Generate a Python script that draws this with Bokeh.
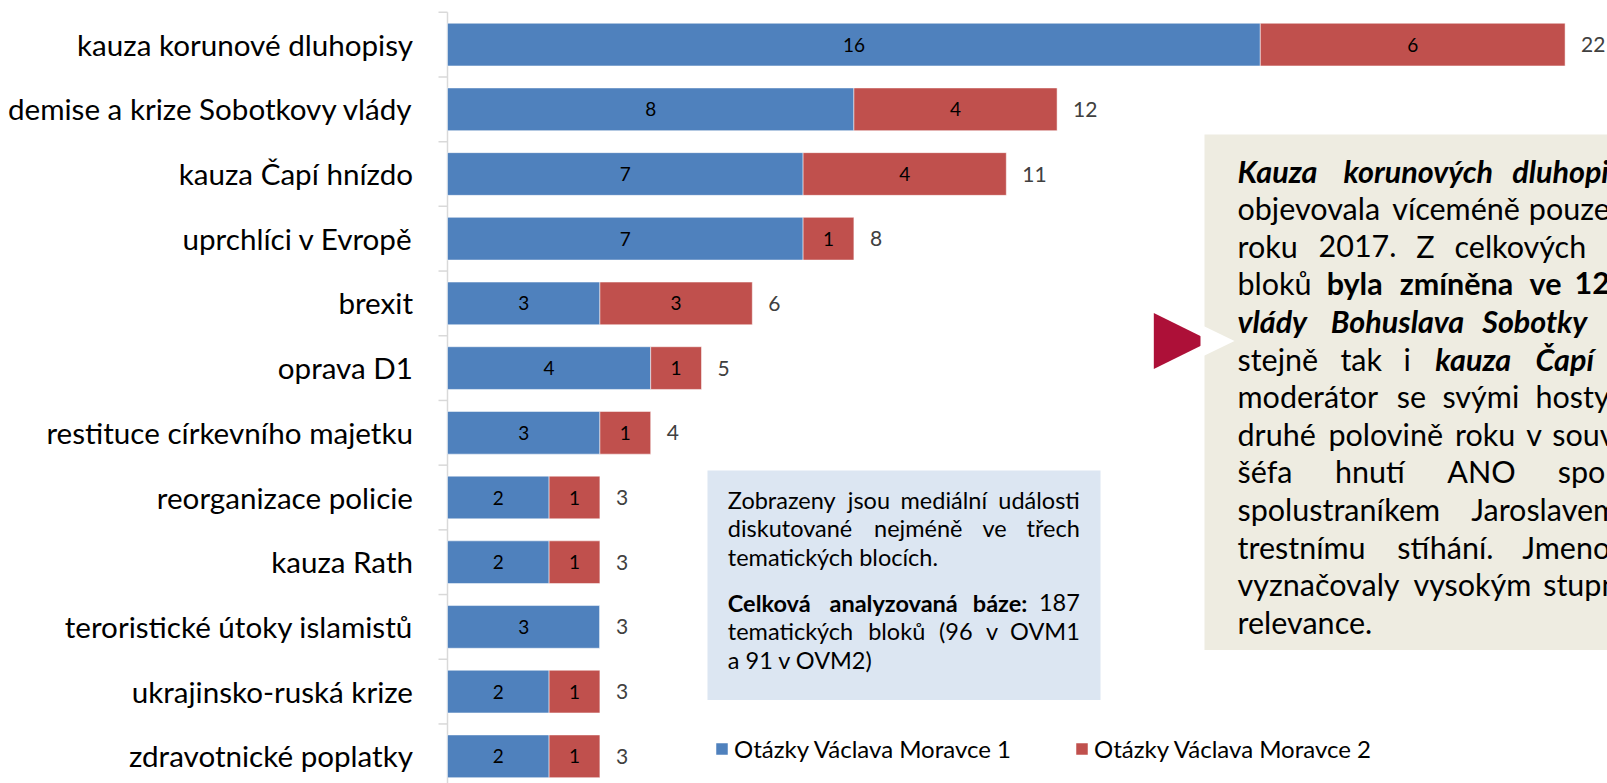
import unicodedata
from bokeh.plotting import figure
from bokeh.models import Range1d, ColumnDataSource, Legend, LegendItem
from bokeh.core.properties import value
from bokeh.embed import file_html
from bokeh.resources import INLINE

# ---------------- data ----------------
categories = [
    "kauza korunové dluhopisy",
    "demise a krize Sobotkovy vlády",
    "kauza Čapí hnízdo",
    "uprchlíci v Evropě",
    "brexit",
    "oprava D1",
    "restituce církevního majetku",
    "reorganizace policie",
    "kauza Rath",
    "teroristické útoky islamistů",
    "ukrajinsko-ruská krize",
    "zdravotnické poplatky",
]
ovm1 = [16, 8, 7, 7, 3, 4, 3, 2, 2, 3, 2, 2]
ovm2 = [6, 4, 4, 1, 3, 1, 1, 1, 1, 0, 1, 1]
series_names = ["Otázky Václava Moravce 1", "Otázky Václava Moravce 2"]

# ---------------- layout ----------------
W, H = 1607, 783
PX_X = 50.8          # px per unit on x
X0_PX = 447          # px of x = 0
ROW = 64.7           # px per category row
TOP_ROW_PX = 44.1    # px of first row centre
n = len(categories)

x_start = -X0_PX / PX_X
x_end = (W - X0_PX) / PX_X
y_end = (n - 1) + TOP_ROW_PX / ROW
y_start = y_end - H / ROW


def fx(px):
    return (px - X0_PX) / PX_X


def fy(py):
    return y_end - py / ROW


FONT = value("Lato")

p = figure(width=W, height=H, x_range=Range1d(x_start, x_end), y_range=Range1d(y_start, y_end),
           output_backend="svg", toolbar_location=None, min_border=0,
           x_axis_location=None, y_axis_location=None, outline_line_color=None)
p.grid.visible = False
p.background_fill_color = "white"

ys = [n - 1 - i for i in range(n)]
totals = [a + b for a, b in zip(ovm1, ovm2)]
src = ColumnDataSource(dict(
    y=ys, cat=categories, v1=ovm1, v2=ovm2, total=totals,
    mid1=[a / 2 for a in ovm1],
    mid2=[a + b / 2 for a, b in zip(ovm1, ovm2)],
    lab1=[str(a) if a else "" for a in ovm1],
    lab2=[str(b) if b else "" for b in ovm2],
    labt=[str(t) for t in totals],
))

# text boxes (behind)
p.quad(left=fx(1204), right=fx(1800), top=fy(134), bottom=fy(649.5),
       fill_color="#EEECE1", line_color=None)
p.quad(left=fx(707), right=fx(1100), top=fy(470), bottom=fy(699.5),
       fill_color="#DCE6F2", line_color=None)

# axis line and boundary ticks
p.segment(x0=0, x1=0, y0=y_start - 1, y1=n - 0.5, line_color="#D9D9D9", line_width=1.5)
bounds = [k - 0.5 for k in range(n + 1)]
p.segment(x0=[-9 / PX_X] * len(bounds), x1=[0] * len(bounds), y0=bounds, y1=bounds,
          line_color="#D9D9D9", line_width=1.5)

# bars
r1 = p.hbar(y="y", left=0, right="v1", height=0.66, source=src,
            fill_color="#4F81BD", line_color="white", line_alpha=0.5, line_width=1)
r2 = p.hbar(y="y", left="v1", right="total", height=0.66, source=src,
            fill_color="#C0504D", line_color="white", line_alpha=0.5, line_width=1)

# bar labels
p.text(x="mid1", y="y", text="lab1", source=src, text_align="center", text_baseline="middle",
       text_font=FONT, text_font_size="19px", text_color="black")
p.text(x="mid2", y="y", text="lab2", source=src, text_align="center", text_baseline="middle",
       text_font=FONT, text_font_size="19px", text_color="black")
p.text(x="total", y="y", text="labt", source=src, x_offset=16, text_align="left",
       text_baseline="middle", text_font=FONT, text_font_size="21px", text_color="#404040")

# category labels
p.text(x=0, y="y", text="cat", source=src, x_offset=-34.5, y_offset=-0.5, text_align="right",
       text_baseline="middle", text_font=FONT, text_font_size="29.6px", text_color="black")

# callout triangle
p.patch([fx(1153.3), fx(1210), fx(1153.3)], [fy(312.5), fy(340.5), fy(368.5)],
        fill_color="#AD1038", line_color=None)
p.patch([fx(1200), fx(1234), fx(1200)], [fy(324), fy(340.5), fy(357)],
        fill_color="white", line_color=None)

N, B, BI = "normal", "bold", "bold italic"
L, C, R = "left", "center", "right"


def draw_words(words, size):
    for align in (L, C, R):
        sel = [w for w in words if w[3] == align]
        if not sel:
            continue
        p.text(x=[fx(w[1]) for w in sel], y=[fy(w[2]) for w in sel], text=[w[0] for w in sel],
               text_font_style=[w[4] for w in sel], text_align=align, text_baseline="middle",
               text_font=FONT, text_font_size=size, text_color="black")


# rough Lato advance widths (em) used only to spread justified words
_W = dict(a=.51, b=.57, c=.47, d=.57, e=.53, f=.33, g=.51, h=.57, i=.25, j=.25, k=.51, l=.25,
          m=.86, n=.57, o=.57, p=.57, q=.57, r=.37, s=.43, t=.36, u=.57, v=.51, w=.78, x=.5,
          y=.51, z=.46)
_W.update({".": .22, ":": .22, "(": .3, ")": .3, " ": .19, "C": .67, "O": .78, "V": .69,
           "M": .88, "Z": .62, "A": .7, "N": .77, "J": .38, "T": .59, "K": .66, "B": .66})


def est_width(word, size, style):
    tot = 0.0
    for ch in word:
        base = unicodedata.normalize("NFD", ch)[0]
        if base.isdigit():
            tot += .58
        else:
            tot += _W.get(base, .6)
    return tot * size * (1.05 if "bold" in style else 1.0)


def justify(line, left, right, yy, size, last_left=False):
    """first word starts at left; last word ends at right (or starts at right if last_left)."""
    ws = [est_width(t, size, st) for t, st in line]
    if len(line) == 1:
        return [(line[0][0], left, yy, L, line[0][1])]
    span = right - left - (sum(ws[:-1]) if last_left else sum(ws))
    gap = span / (len(line) - 1)
    out, x = [], left
    for i, ((t, st), w) in enumerate(zip(line, ws)):
        if i == 0:
            out.append((t, left, yy, L, st))
        elif i == len(line) - 1:
            out.append((t, right, yy, L if last_left else R, st))
        else:
            out.append((t, x + w / 2, yy, C, st))
        x += w + gap
    return out


# right text box (justified; the picture cuts it at its right edge)
BOX_SIZE = 30.5
box_lines = [
    (1511.7, [("Kauza", BI), ("korunových", BI), ("dluhopisů", BI)]),
    (1528.3, [("objevovala", N), ("víceméně", N), ("pouze", N)]),
    (1454, [("roku", N), ("2017.", N), ("Z", N), ("celkových", N)]),
    (1574, [("bloků", N), ("byla", B), ("zmíněna", B), ("ve", B), ("12", B)]),
    (1481.7, [("vlády", BI), ("Bohuslava", BI), ("Sobotky", BI)]),
    (1535, [("stejně", N), ("tak", N), ("i", N), ("kauza", BI), ("Čapí", BI)]),
    (1535, [("moderátor", N), ("se", N), ("svými", N), ("hosty", N)]),
    (1551.7, [("druhé", N), ("polovině", N), ("roku", N), ("v", N), ("souvislosti", N)]),
    (1557.3, [("šéfa", N), ("hnutí", N), ("ANO", N), ("spolu", N)]),
    (1470.7, [("spolustraníkem", N), ("Jaroslavem", N)]),
    (1521.7, [("trestnímu", N), ("stíhání.", N), ("Jmenované", N)]),
    (1542.7, [("vyznačovaly", N), ("vysokým", N), ("stupněm", N)]),
    (None, [("relevance.", N)]),
]
words = []
for k, (last_x, line) in enumerate(box_lines):
    yy = 170 + k * 37.6
    if last_x is None:
        words.append((line[0][0], 1237, yy, L, line[0][1]))
    else:
        words += justify(line, 1237, last_x, yy, BOX_SIZE, last_left=True)
draw_words(words, f"{BOX_SIZE}px")

# left info box (justified between its text margins)
INFO_SIZE = 23.5
info_lines = [
    (499, True, [("Zobrazeny", N), ("jsou", N), ("mediální", N), ("události", N)]),
    (527.5, True, [("diskutované", N), ("nejméně", N), ("ve", N), ("třech", N)]),
    (556, False, [("tematických blocích.", N)]),
    (602, True, [("Celková", B), ("analyzovaná", B), ("báze:", B), ("187", N)]),
    (630.5, True, [("tematických", N), ("bloků", N), ("(96", N), ("v", N), ("OVM1", N)]),
    (659, False, [("a 91 v OVM2)", N)]),
]
words = []
for yy, just, line in info_lines:
    if just:
        words += justify(line, 727.3, 1079.3, yy, INFO_SIZE)
    else:
        words.append((line[0][0], 727.3, yy, L, line[0][1]))
draw_words(words, f"{INFO_SIZE}px")

# legend
legend = Legend(items=[LegendItem(label=series_names[0], renderers=[r1]),
                       LegendItem(label=series_names[1], renderers=[r2])],
                orientation="horizontal", location=(714, 20),
                glyph_width=15, glyph_height=15, label_standoff=5, label_width=305,
                label_height=15, spacing=35, padding=0, margin=0,
                border_line_color=None, background_fill_alpha=0,
                label_text_font="Lato", label_text_font_size="24px", label_text_color="black")
p.add_layout(legend)

open("out.html", "w").write(file_html(p, INLINE))
